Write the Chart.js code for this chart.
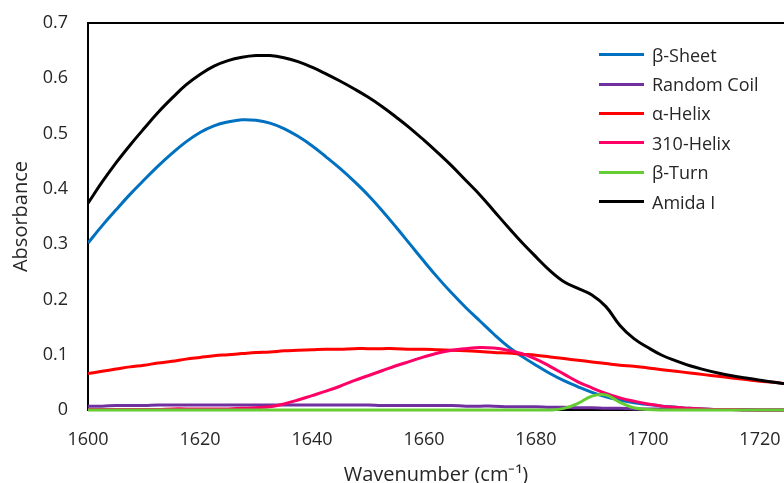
<!DOCTYPE html>
<html>
<head>
<meta charset="utf-8">
<script src="https://cdn.jsdelivr.net/npm/chart.js@4/dist/chart.umd.min.js"></script>
<style>
  html, body { margin: 0; padding: 0; background: #fff; }
  #wrap { position: relative; width: 784px; height: 483px; }
  #legend { position: absolute; left: 599px; top: 40px; font-family: "Open Sans", sans-serif; font-size: 18px; color: #262626; }
  #legend .row { display: flex; align-items: center; height: 29.4px; }
  #legend .swatch { width: 45px; height: 3px; margin-right: 8px; }
</style>
</head>
<body>
<div id="wrap">
  <canvas id="chart" width="784" height="483"></canvas>
  <div id="legend"></div>
</div>
<script>
const wavenumbers = [
  1600, 1602.5, 1605, 1607.5, 1610, 1612.5, 1615, 1617.5, 1620, 1622.5,
  1625, 1627.5, 1630, 1632.5, 1635, 1637.5, 1640, 1642.5, 1645, 1647.5,
  1650, 1652.5, 1655, 1657.5, 1660, 1662.5, 1665, 1667.5, 1670, 1672.5,
  1675, 1677.5, 1680, 1682.5, 1685, 1687.5, 1690, 1692.5, 1695, 1697.5,
  1700, 1702.5, 1705, 1707.5, 1710, 1712.5, 1715, 1717.5, 1720, 1722.5, 1725
];

const betaSheet = [
  0.302, 0.333, 0.362, 0.390, 0.416, 0.441, 0.464, 0.485, 0.502, 0.514,
  0.521, 0.525, 0.524, 0.519, 0.509, 0.495, 0.478, 0.458, 0.437, 0.414,
  0.389, 0.361, 0.331, 0.300, 0.269, 0.239, 0.211, 0.185, 0.161, 0.137,
  0.115, 0.097, 0.081, 0.066, 0.053, 0.042, 0.032, 0.024, 0.018, 0.013,
  0.010, 0.007, 0.005, 0.003, 0.002, 0.001, 0.001, 0, 0, 0, 0
];

const randomCoil = [
  0.007, 0.007, 0.008, 0.008, 0.008, 0.009, 0.009, 0.009, 0.009, 0.009,
  0.009, 0.009, 0.009, 0.009, 0.009, 0.009, 0.009, 0.009, 0.009, 0.009,
  0.009, 0.008, 0.008, 0.008, 0.008, 0.008, 0.008, 0.007, 0.007, 0.007,
  0.006, 0.006, 0.006, 0.005, 0.005, 0.004, 0.004, 0.003, 0.003, 0.002,
  0.002, 0.002, 0.002, 0.001, 0.001, 0.001, 0.001, 0.001, 0, 0, 0
];

const alphaHelix = [
  0.066, 0.070, 0.074, 0.078, 0.081, 0.085, 0.088, 0.092, 0.095, 0.098,
  0.100, 0.102, 0.104, 0.105, 0.107, 0.108, 0.109, 0.110, 0.110, 0.111,
  0.111, 0.111, 0.111, 0.110, 0.110, 0.109, 0.108, 0.107, 0.106, 0.104,
  0.103, 0.101, 0.099, 0.096, 0.093, 0.090, 0.087, 0.084, 0.081, 0.079,
  0.076, 0.073, 0.070, 0.067, 0.064, 0.061, 0.058, 0.055, 0.052, 0.050, 0.047
];

const helix310 = [
  0.001, 0.001, 0.001, 0.001, 0.001, 0.001, 0.002, 0.002, 0.002, 0.002,
  0.002, 0.003, 0.004, 0.006, 0.011, 0.018, 0.026, 0.034, 0.043, 0.053,
  0.062, 0.071, 0.080, 0.088, 0.096, 0.103, 0.108, 0.111, 0.113, 0.112,
  0.108, 0.102, 0.092, 0.079, 0.065, 0.051, 0.040, 0.030, 0.022, 0.016,
  0.011, 0.007, 0.005, 0.003, 0.002, 0.001, 0.001, 0, 0, 0, 0
];

const betaTurn = [
  0, 0, 0, 0, 0, 0, 0, 0, 0, 0,
  0, 0, 0, 0, 0, 0, 0, 0, 0, 0,
  0, 0, 0, 0, 0, 0, 0, 0, 0, 0,
  0, 0, 0, 0, 0.003, 0.012, 0.025, 0.027, 0.014, 0.004,
  0.001, 0, 0, 0, 0, 0, 0, 0, 0, 0, 0
];

const amidaI = [
  0.374, 0.412, 0.447, 0.479, 0.509, 0.538, 0.564, 0.588, 0.607, 0.622,
  0.632, 0.638, 0.641, 0.641, 0.637, 0.630, 0.620, 0.608, 0.595, 0.581,
  0.566, 0.549, 0.530, 0.510, 0.488, 0.465, 0.441, 0.415, 0.389, 0.360,
  0.331, 0.303, 0.277, 0.252, 0.232, 0.220, 0.208, 0.187, 0.153, 0.129,
  0.113, 0.099, 0.089, 0.080, 0.073, 0.067, 0.062, 0.058, 0.054, 0.050, 0.047
];

const seriesLabels = ["β-Sheet", "Random Coil", "α-Helix", "310-Helix", "β-Turn", "Amida I"];
const seriesValues = [betaSheet, randomCoil, alphaHelix, helix310, betaTurn, amidaI];
const seriesColors = ["#0070c0", "#7030a0", "#ff0000", "#ff0066", "#66cc33", "#000000"];

const fontFamily = "'Open Sans', sans-serif";
const textColor = "#262626";

// later series sit on top, like the spreadsheet original
const datasets = seriesLabels.map((label, i) => ({
  label,
  data: wavenumbers.map((x, j) => ({ x, y: seriesValues[i][j] })),
  borderColor: seriesColors[i],
  borderWidth: 3,
  pointRadius: 0,
  fill: false,
  tension: 0.4,
  clip: { left: 0, top: 0, right: 0, bottom: 4 },
  order: seriesLabels.length - 1 - i
}));

const frameTop = {
  id: "frameTop",
  afterDatasetsDraw(chart) {
    const { ctx, chartArea } = chart;
    ctx.save();
    ctx.strokeStyle = "#000";
    ctx.lineWidth = 2;
    ctx.beginPath();
    ctx.moveTo(chartArea.left - 1, chartArea.top);
    ctx.lineTo(chartArea.right, chartArea.top);
    ctx.stroke();
    ctx.restore();
  }
};

new Chart(document.getElementById("chart"), {
  type: "line",
  data: { datasets },
  options: {
    responsive: false,
    animation: false,
    layout: { padding: { top: 23, right: 0, left: 0, bottom: 0 } },
    plugins: {
      legend: { display: false },
      tooltip: { enabled: false }
    },
    scales: {
      x: {
        type: "linear",
        min: 1600,
        max: 1724.3,
        afterFit(scale) {
          scale.height = 73;
          scale.paddingLeft = 0;
          scale.paddingRight = 0;
        },
        ticks: {
          stepSize: 20,
          includeBounds: false,
          padding: 19,
          color: textColor,
          font: { family: fontFamily, size: 18 },
          callback: (v) => String(v)
        },
        grid: { display: false, drawTicks: false },
        border: { display: true, color: "#000", width: 2 },
        title: {
          display: true,
          text: "Wavenumber (cm⁻¹)",
          color: textColor,
          font: { family: fontFamily, size: 20 },
          padding: { top: 0, bottom: -4 }
        }
      },
      y: {
        min: 0,
        max: 0.7,
        afterFit(scale) {
          scale.width = 88;
          scale.paddingTop = 0;
          scale.paddingBottom = 0;
        },
        ticks: {
          stepSize: 0.1,
          padding: 20,
          color: textColor,
          font: { family: fontFamily, size: 18 },
          callback: (v) => Number(v.toFixed(1)).toString()
        },
        grid: { display: false, drawTicks: false },
        border: { display: true, color: "#000", width: 2 },
        title: {
          display: true,
          text: "Absorbance",
          color: textColor,
          font: { family: fontFamily, size: 20 },
          padding: { top: 9, bottom: 0 }
        }
      }
    }
  },
  plugins: [frameTop]
});

const legendBox = document.getElementById("legend");
seriesLabels.forEach((label, i) => {
  const row = document.createElement("div");
  row.className = "row";
  const sw = document.createElement("div");
  sw.className = "swatch";
  sw.style.background = seriesColors[i];
  const txt = document.createElement("span");
  txt.textContent = label;
  row.appendChild(sw);
  row.appendChild(txt);
  legendBox.appendChild(row);
});
</script>
</body>
</html>
